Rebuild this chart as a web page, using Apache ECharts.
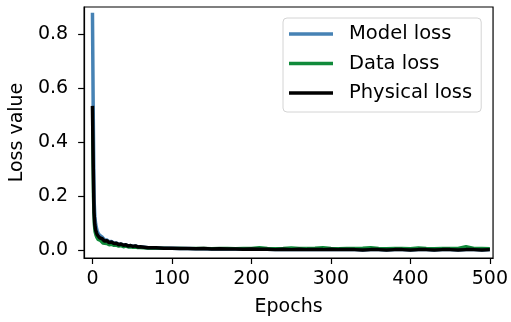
<!DOCTYPE html>
<html>
<head>
<meta charset="utf-8">
<script src="https://cdn.jsdelivr.net/npm/echarts@6/dist/echarts.min.js"></script>
<style>html,body{margin:0;padding:0;background:#fff}#c{width:511px;height:322px}</style>
</head>
<body>
<div id="c"></div>
<script>
const epochs = [0,1,2,3,4,5,6,7,8,9,10,11,12,13,14,15,
  18,21,24,27,30,33,36,39,42,45,48,51,54,57,60,
  70,80,90,100,110,120,130,140,150,160,170,180,190,200,210,220,230,240,250,260,
  270,280,290,300,310,320,330,340,350,360,370,380,390,400,410,420,430,440,450,460,
  470,480,490,500];

const modelLoss = [0.88,0.50,0.19,0.125,0.098,0.083,0.072,0.064,0.063,0.056,0.056,0.049,0.050,0.044,0.045,0.040,
  0.039,0.032,0.033,0.027,0.028,0.022,0.024,0.019,0.021,0.016,0.018,0.015,0.017,0.013,0.014,
  0.010,0.009,0.008,0.008,0.007,0.007,0.006,0.006,0.005,0.006,0.005,0.005,0.004,0.004,0.004,0.004,0.003,0.004,0.003,0.003,
  0.003,0.003,0.003,0.003,0.003,0.003,0.003,0.002,0.003,0.003,0.002,0.003,0.003,0.002,0.003,0.003,0.002,0.003,0.003,0.002,
  0.003,0.003,0.002,0.003];

const dataLoss = [0.47,0.20,0.10,0.070,0.058,0.050,0.044,0.040,0.040,0.034,0.036,0.030,0.032,0.027,0.029,0.025,
  0.025,0.020,0.022,0.018,0.019,0.015,0.017,0.013,0.015,0.012,0.013,0.011,0.012,0.010,0.010,
  0.008,0.008,0.008,0.007,0.008,0.007,0.008,0.008,0.007,0.008,0.008,0.007,0.008,0.008,0.011,0.008,0.007,0.008,0.010,0.008,
  0.008,0.009,0.011,0.008,0.007,0.008,0.008,0.009,0.011,0.008,0.007,0.008,0.008,0.007,0.010,0.008,0.007,0.008,0.008,0.008,
  0.015,0.008,0.008,0.007];

const physicalLoss = [0.535,0.31,0.14,0.095,0.076,0.066,0.058,0.053,0.055,0.047,0.049,0.042,0.044,0.038,0.040,0.035,
  0.036,0.029,0.031,0.026,0.027,0.021,0.024,0.019,0.021,0.016,0.018,0.015,0.017,0.013,0.014,
  0.010,0.010,0.008,0.008,0.007,0.007,0.006,0.007,0.005,0.006,0.005,0.005,0.004,0.005,0.004,0.004,0.003,0.004,0.003,0.004,
  0.003,0.003,0.003,0.004,0.003,0.003,0.003,0.002,0.003,0.003,0.002,0.003,0.003,0.002,0.003,0.003,0.002,0.003,0.003,0.002,
  0.003,0.003,0.002,0.003];

const xTicks = [0,100,200,300,400,500];
const yTicks = [0,0.2,0.4,0.6,0.8];
const seriesNames = ['Model loss','Data loss','Physical loss'];
const seriesColors = ['#4682b4','#108a3a','#000000'];

const FONT = 'DejaVu Sans';
const pair = v => epochs.map((e,i)=>[e, v[i]]);

const chart = echarts.init(document.getElementById('c'), null, {renderer:'canvas'});
chart.setOption({
  animation:false,
  backgroundColor:'#fff',
  textStyle:{fontFamily:FONT},
  grid:{left:84,right:16,top:7,bottom:63,show:true,borderColor:'#000',borderWidth:1.2,containLabel:false},
  xAxis:{
    type:'value', min:-10.5, max:504,
    name:'Epochs', nameLocation:'middle', nameGap:40,
    nameTextStyle:{fontFamily:FONT,fontSize:19,color:'#000'},
    axisLine:{show:true,onZero:false,lineStyle:{color:'#000',width:1.2}},
    axisTick:{show:true,length:6,lineStyle:{color:'#000',width:1.2},customValues:xTicks},
    axisLabel:{fontFamily:FONT,fontSize:19,color:'#000',margin:12,customValues:xTicks,formatter:v=>String(v)},
    splitLine:{show:false}
  },
  yAxis:{
    type:'value', min:-0.028, max:0.901,
    name:'Loss value', nameLocation:'middle', nameGap:53,
    nameTextStyle:{fontFamily:FONT,fontSize:19,color:'#000'},
    axisLine:{show:true,onZero:false,lineStyle:{color:'#000',width:1.2}},
    axisTick:{show:true,length:6,lineStyle:{color:'#000',width:1.2},customValues:yTicks},
    axisLabel:{fontFamily:FONT,fontSize:19,color:'#000',margin:16,customValues:yTicks,formatter:v=>v.toFixed(1)},
    splitLine:{show:false}
  },
  legend:{
    orient:'vertical', left:283, top:18,
    data:seriesNames,
    icon:'rect', itemWidth:44, itemHeight:3.5, itemGap:9.5,
    padding:[6,9,9,6],
    borderColor:'#d4d4d4', borderWidth:1, borderRadius:4,
    backgroundColor:'rgba(255,255,255,0.8)',
    textStyle:{fontFamily:FONT,fontSize:19.5,color:'#000',lineHeight:20,padding:[0,0,0,11]}
  },
  series:[
    {name:seriesNames[0],type:'line',data:pair(modelLoss),showSymbol:false,symbol:'none',
      lineStyle:{color:seriesColors[0],width:3.5},itemStyle:{color:seriesColors[0]}},
    {name:seriesNames[1],type:'line',data:pair(dataLoss),showSymbol:false,symbol:'none',
      lineStyle:{color:seriesColors[1],width:3},itemStyle:{color:seriesColors[1]}},
    {name:seriesNames[2],type:'line',data:pair(physicalLoss),showSymbol:false,symbol:'none',
      lineStyle:{color:seriesColors[2],width:3.5},itemStyle:{color:seriesColors[2]}}
  ]
});
</script>
</body>
</html>
